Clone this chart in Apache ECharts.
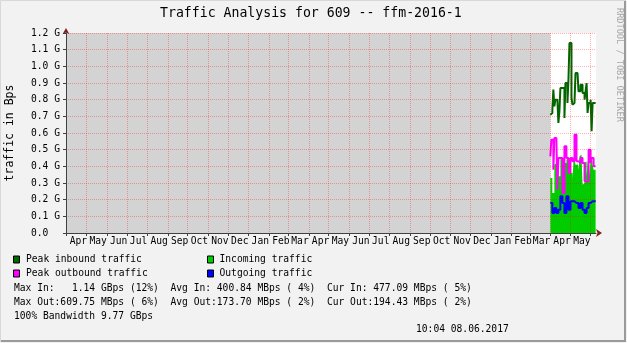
<!DOCTYPE html>
<html><head><meta charset="utf-8">
<script src="https://cdn.jsdelivr.net/npm/echarts@6/dist/echarts.min.js"></script>
<style>html,body{margin:0;padding:0;background:#F2F2F2}#c{width:627px;height:343px}</style>
</head><body><div id="c"></div><script>
// ---------- data ----------
const titleText = 'Traffic Analysis for 609 -- ffm-2016-1';
const yAxisTitle = 'traffic in Bps';
const monthNames = ['Jan','Feb','Mar','Apr','May','Jun','Jul','Aug','Sep','Oct','Nov','Dec'];
const seriesNames = ['Peak inbound traffic','Incoming traffic','Peak outbound traffic','Outgoing traffic'];
// values in G (Bps), one sample per ~36.5 h starting 2017-04-01
const peakIn = [0.71,0.72,0.74,0.86,0.76,0.80,0.80,0.79,0.66,0.73,0.87,0.87,0.87,0.87,0.69,0.90,0.90,0.78,0.92,1.14,1.14,0.81,0.77,0.78,0.78,0.96,0.96,0.96,0.85,0.85,0.89,0.89,0.84,0.84,0.80,0.85,0.90,0.72,0.78,0.78,0.80,0.61,0.78,0.78,0.78];
const incoming = [0.33,0.33,0.24,0.24,0.41,0.42,0.43,0.42,0.34,0.34,0.45,0.44,0.43,0.34,0.42,0.42,0.44,0.45,0.46,0.43,0.36,0.36,0.32,0.43,0.45,0.41,0.41,0.43,0.38,0.46,0.47,0.48,0.29,0.30,0.42,0.43,0.34,0.42,0.45,0.34,0.44,0.43,0.41,0.38,0.38];
const peakOut = [0.46,0.56,0.56,0.38,0.57,0.57,0.57,0.26,0.45,0.45,0.45,0.45,0.24,0.24,0.52,0.52,0.45,0.45,0.36,0.36,0.45,0.45,0.43,0.43,0.59,0.59,0.43,0.43,0.42,0.42,0.45,0.45,0.42,0.42,0.31,0.31,0.31,0.31,0.50,0.50,0.42,0.45,0.45,0.40,0.40];
const outgoing = [0.18,0.18,0.12,0.12,0.15,0.15,0.12,0.12,0.14,0.14,0.22,0.22,0.18,0.18,0.12,0.12,0.22,0.22,0.14,0.14,0.19,0.19,0.19,0.19,0.18,0.18,0.18,0.18,0.15,0.15,0.18,0.18,0.14,0.14,0.12,0.12,0.15,0.15,0.18,0.18,0.19,0.19,0.19,0.19,0.19];
const statsLines = [
  'Max In:   1.14 GBps (12%)  Avg In: 400.84 MBps ( 4%)  Cur In: 477.09 MBps ( 5%)',
  'Max Out:609.75 MBps ( 6%)  Avg Out:173.70 MBps ( 2%)  Cur Out:194.43 MBps ( 2%)',
  '100% Bandwidth 9.77 GBps'
];
const stampText = '10:04 08.06.2017';
const watermark = 'RRDTOOL / TOBI OETIKER';
const yMax = 1.2, yStep = 0.1;

// ---------- time frame ----------
const DAY = 86400000;
const axisStart = Date.UTC(2015, 2, 31);
const axisEnd = Date.UTC(2017, 5, 9);
const dataStart = Date.UTC(2017, 3, 1);
const stepMs = 36.5 * 3600000;

const days = [];
for (let t = axisStart; t <= axisEnd; t += DAY) days.push(new Date(t));
const cats = days.map(d => d.toISOString().slice(0, 10));
const lastIdx = days.length - 1;
const isMonthStart = (i) => days[i].getUTCDate() === 1;
const showLabel = (i) => isMonthStart(i) && i + 15 <= lastIdx;

function toPts(vals) {
  const pts = vals.map((v, i) => [dataStart + i * stepMs, v]);
  pts.push([Math.min(dataStart + vals.length * stepMs, axisEnd), vals[vals.length - 1]]);
  return pts;
}

// ---------- styles ----------
const MONO = '"DejaVu Sans Mono", monospace';
const SMALL = 9.65;
const colors = ['#006600', '#00CC00', '#FF00FF', '#0000FF'];
const gridColor = 'rgba(255,0,0,0.3)';
const axisColor = '#404040';
const arrowColor = '#7f1f1f';

const chart = echarts.init(document.getElementById('c'), null, { renderer: 'canvas' });

const legendGraphics = [];
const legendPos = [[13.5, 256, 26, 259.5], [207.5, 256, 219.5, 259.5], [13.5, 270, 26, 273.5], [207.5, 270, 219.5, 273.5]];
const legendOrder = [0, 1, 2, 3];
legendOrder.forEach((si, k) => {
  const p = legendPos[k];
  legendGraphics.push({ type: 'rect', shape: { x: p[0], y: p[1], width: 6, height: 7 }, style: { fill: colors[si], stroke: '#000', lineWidth: 1 } });
  legendGraphics.push({ type: 'text', x: p[2], y: p[3], style: { text: seriesNames[si], font: SMALL + 'px ' + MONO, fill: '#000', verticalAlign: 'middle', textVerticalAlign: 'middle' } });
});
statsLines.forEach((s, k) => {
  legendGraphics.push({ type: 'text', x: 14, y: 288 + k * 14, style: { text: s, font: SMALL + 'px ' + MONO, fill: '#000', verticalAlign: 'middle', textVerticalAlign: 'middle' } });
});
legendGraphics.push({ type: 'text', x: 416, y: 329, style: { text: stampText, font: SMALL + 'px ' + MONO, fill: '#000', verticalAlign: 'middle', textVerticalAlign: 'middle' } });
legendGraphics.push({ type: 'text', x: 619, y: 8, rotation: -Math.PI / 2, style: { text: watermark, font: '8.6px ' + MONO, fill: '#a8a8a8', verticalAlign: 'middle', textVerticalAlign: 'middle' } });
// frame
legendGraphics.push({ type: 'polyline', shape: { points: [[0.5, 342], [0.5, 0.5], [626, 0.5]] }, style: { stroke: '#d8d8d8', lineWidth: 1, fill: null } });
legendGraphics.push({ type: 'polyline', shape: { points: [[625, 1], [625, 341], [1, 341]] }, style: { stroke: '#9a9a9a', lineWidth: 2, fill: null } });

const lineSeries = (name, vals, color, z) => ({
  name, type: 'line', xAxisIndex: 1, yAxisIndex: 0, step: 'end', symbol: 'none',
  data: toPts(vals), lineStyle: { color, width: 2 }, itemStyle: { color }, z
});

chart.setOption({
  animation: false,
  backgroundColor: '#F2F2F2',
  title: { text: titleText, left: 160, top: 6, padding: 0, textStyle: { fontFamily: MONO, fontSize: 13.2, fontWeight: 'normal', color: '#000', lineHeight: 15 } },
  grid: { left: 66, right: 31, top: 33, bottom: 110, outerBoundsMode: 'none', backgroundColor: '#fff', show: true, borderWidth: 0 },
  xAxis: [{
    type: 'category', data: cats, boundaryGap: false, z: 10,
    axisLine: { show: true, lineStyle: { color: axisColor, width: 1 } },
    axisTick: { show: true, interval: (i) => isMonthStart(i), length: 3, lineStyle: { color: axisColor } },
    axisLabel: {
      interval: (i) => showLabel(i), margin: 3, align: 'left', padding: [0, 0, 0, 3],
      fontFamily: MONO, fontSize: SMALL, color: '#000',
      formatter: (v) => monthNames[Number(v.slice(5, 7)) - 1]
    },
    splitLine: { show: true, interval: (i) => isMonthStart(i), lineStyle: { color: gridColor, type: [1, 1], width: 1 } }
  }, {
    type: 'time', min: axisStart, max: axisEnd, position: 'bottom', z: 11,
    axisLine: { show: true, symbol: ['none', 'arrow'], symbolSize: [6, 6], symbolOffset: [0, 6], lineStyle: { color: arrowColor, width: 0 } },
    axisTick: { show: false }, axisLabel: { show: false }, splitLine: { show: false }
  }],
  yAxis: [{
    type: 'value', min: 0, max: yMax, interval: yStep, z: 10,
    name: yAxisTitle, nameLocation: 'middle', nameGap: 49.5, nameRotate: 90,
    nameTextStyle: { fontFamily: MONO, fontSize: 11.5, color: '#000' },
    axisLine: { show: true, lineStyle: { color: axisColor, width: 1 } },
    axisTick: { show: true, length: 3, lineStyle: { color: axisColor } },
    axisLabel: { margin: 6, fontFamily: MONO, fontSize: SMALL, color: '#000',
      formatter: (v) => v === 0 ? '0.0  ' : v.toFixed(1) + ' G' },
    splitLine: { show: true, lineStyle: { color: gridColor, type: [1, 1], width: 1 } }
  }, {
    type: 'value', min: 0, max: yMax, position: 'left', z: 11,
    axisLine: { show: true, symbol: ['none', 'arrow'], symbolSize: [5, 6], symbolOffset: [0, 5], lineStyle: { color: arrowColor, width: 0 } },
    axisTick: { show: false }, axisLabel: { show: false }, splitLine: { show: false }
  }],
  graphic: legendGraphics,
  series: [
    {
      name: seriesNames[1], type: 'line', xAxisIndex: 1, yAxisIndex: 0, step: 'end', symbol: 'none',
      data: toPts(incoming), lineStyle: { width: 0, color: colors[1] }, itemStyle: { color: colors[1] },
      areaStyle: { color: colors[1], opacity: 1 }, z: 2,
      markArea: { silent: true, itemStyle: { color: '#d3d3d3' }, data: [[{ xAxis: axisStart }, { xAxis: dataStart }]] }
    },
    lineSeries(seriesNames[0], peakIn, colors[0], 3),
    lineSeries(seriesNames[2], peakOut, colors[2], 4),
    lineSeries(seriesNames[3], outgoing, colors[3], 5)
  ]
});
</script></body></html>
